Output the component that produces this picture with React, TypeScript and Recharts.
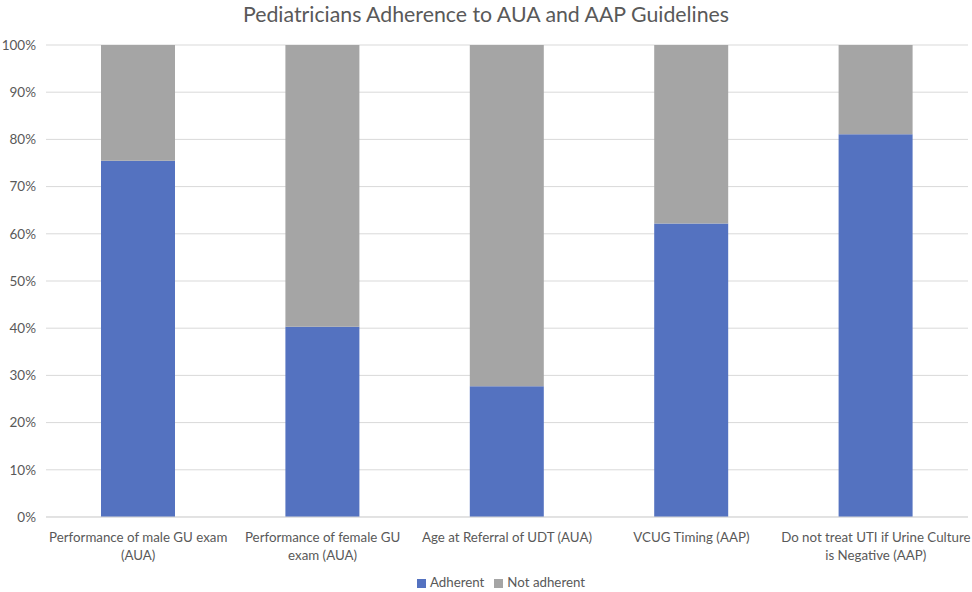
import { Bar, BarChart, CartesianGrid, Legend, XAxis, YAxis } from 'recharts'

const categories = [
  'Performance of male GU exam\n(AUA)',
  'Performance of female GU\nexam (AUA)',
  'Age at Referral of UDT (AUA)',
  'VCUG Timing (AAP)',
  'Do not treat UTI if Urine Culture\nis Negative (AAP)',
]
const adherent = [75.5, 40.3, 27.7, 62.2, 81.1]
const notAdherent = [24.5, 59.7, 72.3, 37.8, 18.9]
const yTicks = [0, 10, 20, 30, 40, 50, 60, 70, 80, 90, 100]

const data = categories.map((name, i) => ({
  name,
  adherent: adherent[i],
  notAdherent: notAdherent[i],
}))

const FONT = 'Lato, "Open Sans", sans-serif'

function CategoryTick({ x, y, payload }: { x: number; y: number; payload: { value: string } }) {
  const lines = String(payload.value).split('\n')
  return (
    <text x={x} y={y} textAnchor="middle" fill="#595959" fontSize={13.3} fontFamily={FONT}>
      {lines.map((line, i) => (
        <tspan key={i} x={x} dy={i === 0 ? 23 : 17.5}>
          {line}
        </tspan>
      ))}
    </text>
  )
}

export default function App() {
  return (
    <div style={{ position: 'relative', width: 972, height: 592, background: '#fff', fontFamily: FONT }}>
      <style>{'body { margin: 0; }'}</style>
      <div
        style={{
          position: 'absolute',
          top: 0,
          left: 0,
          width: 972,
          textAlign: 'center',
          fontSize: 21.3,
          lineHeight: '28px',
          color: '#595959',
        }}
      >
        Pediatricians Adherence to AUA and AAP Guidelines
      </div>
      <BarChart
        width={972}
        height={592}
        data={data}
        margin={{ top: 45, right: 4, left: 0, bottom: 0 }}
        barSize={74}
      >
        <CartesianGrid stroke="#d9d9d9" vertical={false} />
        <XAxis
          dataKey="name"
          interval={0}
          tick={CategoryTick}
          tickLine={false}
          tickSize={0}
          axisLine={{ stroke: '#d9d9d9' }}
          height={55}
        />
        <YAxis
          domain={[0, 100]}
          ticks={yTicks}
          tickFormatter={(v: number) => `${v}%`}
          tick={{ fill: '#595959', fontSize: 13.5, fontFamily: FONT }}
          tickLine={false}
          tickSize={0}
          tickMargin={10}
          axisLine={false}
          width={46}
        />
        <Legend
          verticalAlign="bottom"
          iconType="square"
          iconSize={9}
          wrapperStyle={{ height: 20, lineHeight: '20px', fontSize: 13.3, fontFamily: FONT, paddingLeft: 22 }}
          formatter={(value: string) => <span style={{ color: '#595959' }}>{value}</span>}
        />
        <Bar dataKey="adherent" name="Adherent" stackId="a" fill="#5472c0" isAnimationActive={false} />
        <Bar dataKey="notAdherent" name="Not adherent" stackId="a" fill="#a5a5a5" isAnimationActive={false} />
      </BarChart>
    </div>
  )
}
